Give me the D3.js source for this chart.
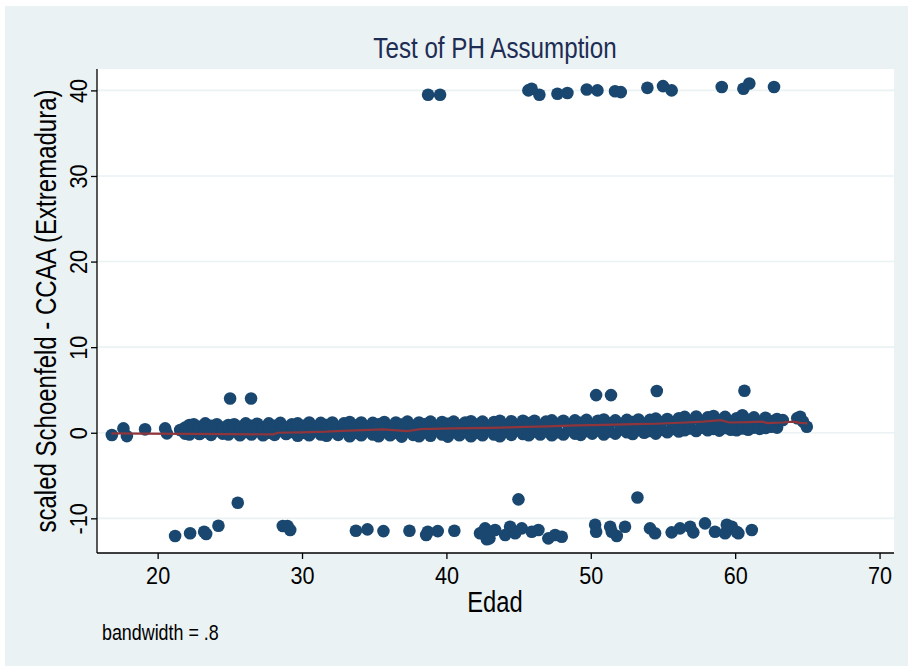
<!DOCTYPE html>
<html>
<head>
<meta charset="utf-8">
<script src="https://cdn.jsdelivr.net/npm/d3@7"></script>
<style>
  html, body { margin: 0; padding: 0; background: #ffffff; }
  svg { display: block; }
  text { font-family: "Liberation Sans", Arial, Helvetica, sans-serif; }
</style>
</head>
<body>
<svg id="chart" width="908" height="666"></svg>
<script>
// Scaled Schoenfeld residuals for CCAA (Extremadura) against age, with lowess smooth.

const xTicks = [20, 30, 40, 50, 60, 70];
const yTicks = [-10, 0, 10, 20, 30, 40];

// Residuals near +40
const upperAges   = [38.73, 39.56, 45.68, 46.44, 45.9, 47.69, 48.38, 49.72, 50.46, 51.68, 52.08, 53.92, 55.0, 55.6, 59.07, 60.57, 60.98, 62.69];
const upperValues = [39.5, 39.5, 40.0, 39.5, 40.2, 39.6, 39.7, 40.1, 40.0, 39.9, 39.8, 40.3, 40.5, 40.0, 40.4, 40.2, 40.8, 40.4];

// Residuals between +4 and +5, and near -8
const midAges   = [25.02, 26.47, 50.37, 51.4, 54.57, 60.64, 25.55, 44.99, 53.23];
const midValues = [4.0, 4.0, 4.4, 4.4, 4.87, 4.9, -8.18, -7.78, -7.57];

// Residuals near -11 / -12
const lowerAges = [21.21, 22.25, 23.22, 23.36, 24.21, 28.67, 28.99, 29.18, 33.73, 34.53, 35.64, 37.44, 38.6, 38.71, 39.4, 40.55,
  42.33, 42.8, 42.68, 42.56, 42.98, 43.37, 44.07, 44.41, 44.76, 45.22, 45.91, 46.37, 47.06, 47.53, 47.99,
  50.3, 50.37, 51.34, 51.8, 52.37, 51.45, 54.1, 54.45, 55.6, 56.18, 56.88, 57.1, 57.91,
  58.6, 59.3, 59.42, 59.77, 60.1, 60.22, 61.15];
const lowerValues = [-12.07, -11.75, -11.56, -11.83, -10.86, -10.9, -10.9, -11.37, -11.45, -11.29, -11.49, -11.45, -11.95, -11.56, -11.49, -11.45,
  -11.75, -12.45, -11.17, -11.56, -12.34, -11.37, -11.95, -10.98, -11.75, -11.17, -11.56, -11.37, -12.34, -11.95, -12.15,
  -10.75, -11.56, -10.98, -12.07, -10.98, -11.56, -11.17, -11.75, -11.64, -11.17, -10.98, -11.64, -10.59,
  -11.56, -11.75, -10.75, -10.98, -11.56, -11.75, -11.37];

// Main band of residuals around zero: each row is [age, residual, residual, ...]
const bandRows = [
  [16.83, -0.27], [17.63, 0.51], [17.87, -0.39], [19.13, 0.4], [20.52, 0.51], [20.64, -0.07], [21.56, 0.32],
  [21.9, -0.1, 0.6], [22.2, -0.2, 0.5, 0.9], [22.5, 0.2, 1.0], [22.9, -0.15, 0.7], [23.3, 0.1, 0.5, 1.1],
  [23.7, -0.25, 0.8], [24.1, 0.3, 1.0], [24.5, -0.1, 0.6], [24.9, -0.2, 0.4, 0.9], [25.3, 0.2, 1.0],
  [25.7, -0.3, 0.7], [26.1, 0.1, 0.5, 1.1], [26.5, -0.2, 0.8], [26.9, 0.3, 1.05], [27.3, -0.3, 0.6],
  [27.7, 0.0, 0.4, 1.1], [28.1, -0.25, 0.8], [28.5, 0.2, 1.15], [28.9, -0.15, 0.6], [29.3, 0.1, 1.0],
  [29.7, -0.35, 0.45, 1.1], [30.1, 0.0, 0.8], [30.5, -0.3, 1.2], [30.9, 0.3, 0.7], [31.3, -0.2, 0.5, 1.15],
  [31.7, -0.35, 0.9], [32.1, 0.1, 1.2], [32.5, -0.25, 0.6], [32.9, 0.2, 1.1], [33.3, -0.4, 0.4, 1.25],
  [33.7, 0.0, 0.85], [34.1, -0.3, 1.2], [34.5, 0.25, 0.7], [34.9, -0.2, 1.15], [35.3, -0.4, 0.5, 1.0],
  [35.7, 0.1, 1.25], [36.1, -0.3, 0.7], [36.5, 0.0, 1.2], [36.9, -0.45, 0.45, 0.95], [37.3, 0.15, 1.3],
  [37.7, -0.25, 0.8], [38.1, -0.4, 0.35, 1.2], [38.5, 0.05, 1.0], [38.9, -0.35, 1.3], [39.3, 0.3, 0.75],
  [39.7, -0.2, 1.25], [40.1, -0.45, 0.5, 1.05], [40.5, 0.1, 1.3], [40.9, -0.3, 0.85], [41.3, 0.2, 1.2],
  [41.7, -0.4, 0.6, 1.35], [42.1, 0.0, 0.95], [42.5, -0.3, 1.3], [42.9, 0.35, 0.7], [43.3, -0.2, 1.25],
  [43.7, -0.4, 0.55, 1.4], [44.1, 0.1, 0.9], [44.5, -0.25, 1.35], [44.9, 0.3, 0.75], [45.3, -0.15, 1.4],
  [45.7, -0.3, 0.6, 1.1], [46.1, 0.15, 1.4], [46.5, -0.2, 0.85], [46.9, 0.25, 1.3], [47.3, -0.3, 0.6, 1.45],
  [47.7, 0.05, 1.05], [48.1, -0.2, 1.4], [48.5, 0.4, 0.8], [48.9, -0.1, 1.45], [49.3, -0.25, 0.65, 1.15],
  [49.7, 0.2, 1.5], [50.1, -0.1, 0.9], [50.5, 0.3, 1.4], [50.9, -0.2, 0.7, 1.55], [51.3, 0.15, 1.1],
  [51.7, -0.1, 1.45], [52.1, 0.4, 0.85], [52.5, 0.05, 1.5], [52.9, -0.15, 0.7, 1.25], [53.3, 0.3, 1.55],
  [53.7, 0.0, 1.0], [54.1, 0.2, 1.5], [54.5, -0.1, 0.8, 1.65], [54.9, 0.35, 1.25], [55.3, 0.05, 1.6],
  [55.7, 0.45, 0.95], [56.1, 0.15, 1.7], [56.5, 0.3, 0.9, 1.85], [56.9, 0.5, 1.35], [57.3, 0.2, 1.9],
  [57.7, 0.6, 1.15], [58.1, 0.3, 1.8], [58.5, 0.45, 1.0, 1.95], [58.9, 0.25, 1.45], [59.3, 0.55, 1.85],
  [59.7, 0.35, 1.15], [60.1, 0.3, 1.7], [60.5, 0.5, 1.2, 2.05], [60.9, 0.35, 1.5], [61.3, 0.6, 1.8],
  [61.7, 0.45, 1.15], [62.1, 0.55, 1.75], [62.5, 0.7, 1.35], [62.9, 0.6, 1.6], [63.3, 1.48],
  [64.3, 1.7], [64.5, 1.87], [64.7, 1.3], [64.96, 0.7]
];

// Lowess smooth of the residuals
const lowessAges   = [16.8, 19, 22.2, 25, 28, 28.3, 30, 31.7, 32.8, 35.6, 37.3, 38.2, 40.5, 43, 45.5, 47, 49, 51, 53, 54.5, 56.2, 57.8, 59, 59.6, 61, 61.9, 62.2, 63.3, 64, 64.5, 65];
const lowessValues = [-0.07, -0.1, -0.12, -0.15, -0.2, 0.0, 0.05, 0.12, 0.23, 0.4, 0.2, 0.43, 0.5, 0.56, 0.68, 0.75, 0.86, 0.92, 1.0, 1.05, 1.17, 1.3, 1.48, 1.2, 1.25, 1.29, 1.13, 1.2, 1.3, 1.15, 1.1];

const W = 908, H = 666;
const plot = { left: 97, right: 894, top: 69, bottom: 553 };
const NARROW = 0.82;      // horizontal squeeze for titles
const NARROW_TICK = 0.9;  // horizontal squeeze for tick labels

const svg = d3.select("#chart");

// Graph region background
svg.append("rect").attr("x", 5).attr("y", 6).attr("width", W - 5).attr("height", H - 6).attr("fill", "#eaf2f3");
// Plot region
svg.append("rect").attr("x", plot.left).attr("y", plot.top)
  .attr("width", plot.right - plot.left).attr("height", plot.bottom - plot.top).attr("fill", "#ffffff");

const x = d3.scaleLinear().domain([15.8, 71.0]).range([plot.left, plot.right]);
const y = d3.scaleLinear().domain([-14.05, 42.5]).range([plot.bottom, plot.top]);

// Horizontal grid lines
svg.append("g").selectAll("line").data(yTicks).join("line")
  .attr("x1", plot.left).attr("x2", plot.right)
  .attr("y1", d => y(d)).attr("y2", d => y(d))
  .attr("stroke", "#eaf2f3").attr("stroke-width", 1.6);

// Points
const points = [];
upperAges.forEach((a, i) => points.push([a, upperValues[i]]));
midAges.forEach((a, i) => points.push([a, midValues[i]]));
lowerAges.forEach((a, i) => points.push([a, lowerValues[i]]));
bandRows.forEach(row => row.slice(1).forEach(v => points.push([row[0], v])));

svg.append("g").selectAll("circle").data(points).join("circle")
  .attr("cx", d => x(d[0])).attr("cy", d => y(d[1])).attr("r", 6.3)
  .attr("fill", "#1a476f");

// Lowess line
const lowess = lowessAges.map((a, i) => [a, lowessValues[i]]);
svg.append("path").datum(lowess)
  .attr("d", d3.line().x(d => x(d[0])).y(d => y(d[1])))
  .attr("fill", "none").attr("stroke", "#90353b").attr("stroke-width", 2.2);

// Axes
const fmt = d => String(d);
const xAxis = svg.append("g").attr("transform", `translate(0,${plot.bottom})`)
  .call(d3.axisBottom(x).tickValues(xTicks).tickSize(6).tickPadding(8).tickFormat(fmt));
const yAxis = svg.append("g").attr("transform", `translate(${plot.left},0)`)
  .call(d3.axisLeft(y).tickValues(yTicks).tickSize(6).tickPadding(4).tickFormat(fmt));

[xAxis, yAxis].forEach(g => {
  g.select(".domain").attr("stroke", "#000").attr("stroke-width", 1.3);
  g.selectAll(".tick line").attr("stroke", "#000").attr("stroke-width", 1.3);
  g.selectAll(".tick text").attr("fill", "#000").attr("font-size", 24)
    .style("font-family", '"Liberation Sans", Arial, sans-serif');
});
xAxis.select(".domain").attr("d", `M${plot.left},0H${plot.right}`);
yAxis.select(".domain").attr("d", `M0,${plot.top}V${plot.bottom}`);

xAxis.selectAll(".tick text").attr("transform", `scale(${NARROW_TICK},1)`);

// Vertical tick labels on the y axis
yAxis.selectAll(".tick text")
  .attr("x", null).attr("dy", null)
  .attr("text-anchor", "middle")
  .attr("transform", `translate(-10,0) rotate(-90) scale(${NARROW_TICK},1)`);

// Text helper with condensed lettering
function label(tx, ty, rot, size, color, str, anchor) {
  svg.append("g").attr("transform", `translate(${tx},${ty}) rotate(${rot})`)
    .append("text").attr("transform", `scale(${NARROW},1)`)
    .attr("text-anchor", anchor || "middle")
    .attr("font-size", size).attr("fill", color).text(str);
}

label(495, 58, 0, 29.5, "#1e2d53", "Test of PH Assumption");
label(495, 612, 0, 29, "#000", "Edad");
label(56, (plot.top + plot.bottom) / 2, -90, 29.3, "#000", "scaled Schoenfeld - CCAA (Extremadura)");
label(102, 640, 0, 21.8, "#000", "bandwidth = .8", "start");
</script>
</body>
</html>
